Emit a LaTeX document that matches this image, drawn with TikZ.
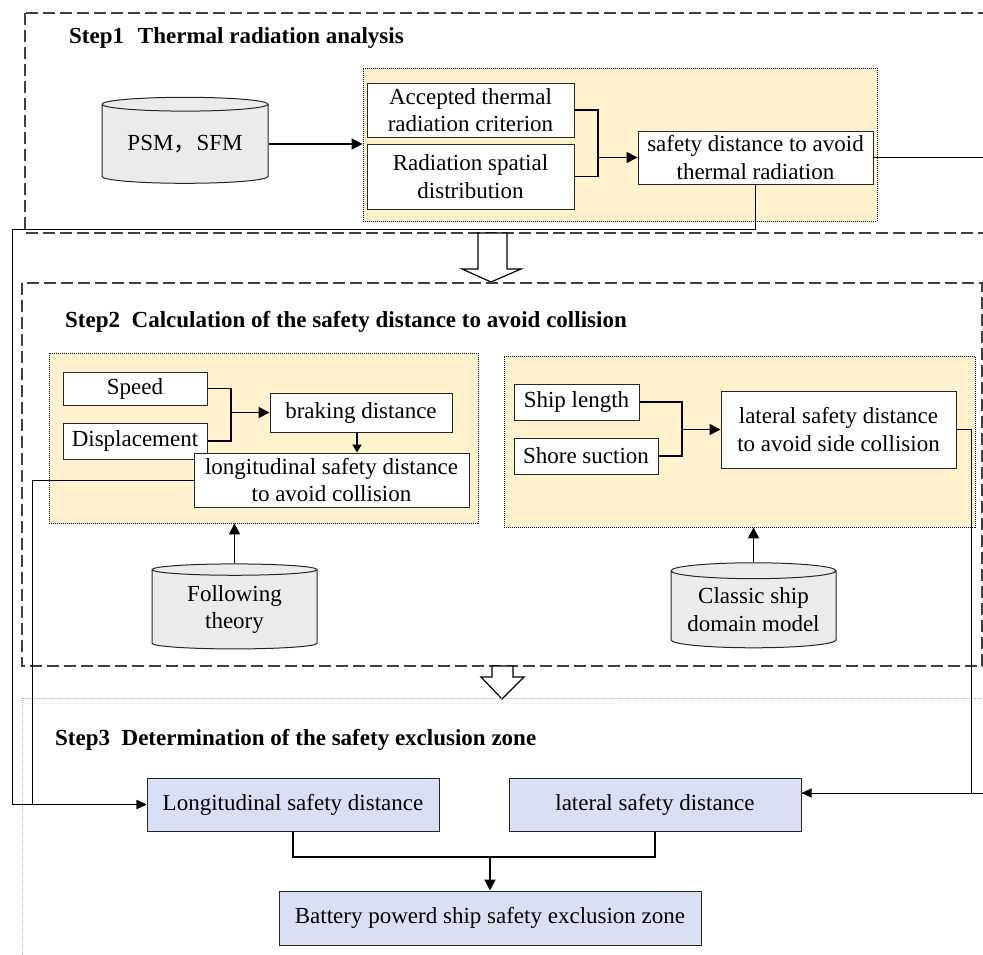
\documentclass[tikz,border=0pt]{standalone}
\usepackage{fontspec}
\setmainfont{Liberation Serif}
\newfontfamily\cjk{Noto Sans CJK SC}
\usetikzlibrary{shapes.geometric,arrows.meta}

\definecolor{panelyellow}{HTML}{FFF2CC}
\definecolor{resultblue}{HTML}{DAE0F3}
\definecolor{dbgray}{HTML}{EBEBEB}
\definecolor{edgegray}{HTML}{262626}

\begin{document}
\begin{tikzpicture}[x=1pt,y=-1pt,
  font=\fontsize{23}{27.5}\selectfont,
  head/.style={font=\fontsize{23}{27.5}\selectfont\bfseries, inner sep=0pt, anchor=base west},
  frame/.style={draw=black!75, line width=1.2pt, dash pattern=on 12pt off 5pt},
  panel/.style={draw=black, fill=panelyellow, line width=0.8pt, dash pattern=on 1pt off 1pt, inner sep=0pt},
  box/.style={draw=edgegray, fill=white, line width=1pt, inner sep=0pt, align=center},
  result/.style={box, fill=resultblue, minimum width=292pt, minimum height=53pt},
  db/.style={cylinder, shape border rotate=90, aspect=0.12, draw=edgegray, fill=dbgray, line width=1pt,
             minimum width=166pt, minimum height=86pt, inner sep=0pt, align=center},
  link/.style={draw=black, line width=1.8pt},
  feed/.style={draw=black, line width=1pt},
  tip/.style={-{Triangle[length=11pt,width=11pt]}},
  hollow/.style={draw=black, fill=white, line width=1.2pt, line join=miter}
]
\clip (0,0) rectangle (983,954);
\fill[white] (0,0) rectangle (983,954);

% Step 1
\draw[frame] (25,13) rectangle (1010,233);
\node[head] (s1) at (69,43) {Step1\hspace{0.6em}Thermal radiation analysis};
\node[panel, minimum width=514pt, minimum height=153pt] (p1) at (620,144.5) {};
\node[db] (psm) at (185,144) {PSM{\cjk ，}SFM};
\node[box, minimum width=207pt, minimum height=54pt] (crit) at (470.5,110) {Accepted thermal\\radiation criterion};
\node[box, minimum width=207pt, minimum height=65pt] (spat) at (470.5,176.5) {Radiation spatial\\distribution};
\node[box, minimum width=235pt, minimum height=53pt] (therm) at (755.5,157.5) {safety distance to avoid\\thermal radiation};
\coordinate (j1) at (598,157.5);
\draw[link] (crit.east) -| (j1) |- (spat.east);
\draw[link, tip] (j1) -- (therm.west);
\draw[link, line width=1.5pt, tip] (psm.east) -- (psm.east -| p1.west);

% hollow arrow 1 -> 2
\draw[hollow] (478,233) -- (478,269) -- (462,269) -- (491,282) -- (521,269) -- (507,269) -- (507,233) -- cycle;

% Step 2
\draw[frame] (22,283) rectangle (982,666);
\node[head] (s2) at (65,327) {Step2\hspace{0.5em}Calculation of the safety distance to avoid collision};
\node[panel, minimum width=429pt, minimum height=170pt] (p2) at (263.5,438) {};
\node[panel, minimum width=471pt, minimum height=171pt] (p3) at (739.5,441.5) {};

\node[box, minimum width=144pt, minimum height=33pt] (speed) at (135,388.5) {Speed};
\node[box, minimum width=144pt, minimum height=36pt] (disp) at (135,441) {Displacement};
\node[box, minimum width=182pt, minimum height=39pt] (brake) at (361,412.5) {braking distance};
\node[box, minimum width=275pt, minimum height=54pt] (longi) at (331.5,480) {longitudinal safety distance\\to avoid collision};
\coordinate (j2) at (231,412.5);
\draw[link] (speed.east) -| (j2) |- (disp.east);
\draw[link, tip] (j2) -- (brake.west);
\draw[link, -{Triangle[length=8pt,width=9pt]}] ([xshift=-4pt]brake.south) -- ([xshift=-4pt]brake.south |- longi.north);

\node[box, minimum width=125pt, minimum height=36pt] (ship) at (576.5,402) {Ship length};
\node[box, minimum width=144pt, minimum height=36pt] (shore) at (586,456) {Shore suction};
\node[box, minimum width=235pt, minimum height=77pt] (lat) at (838.5,429.5) {lateral safety distance\\to avoid side collision};
\coordinate (j3) at (682,429.5);
\draw[link] (ship.east) -| (j3) |- (shore.east);
\draw[link, tip] (j3) -- (lat.west);

\node[db, minimum width=165pt, minimum height=85pt] (follow) at (234.5,609.5) {Following\\theory};
\node[db, minimum width=165pt, minimum height=85pt] (domain) at (753.5,609.5) {Classic ship\\domain model};
\draw[link, line width=1.5pt, tip] (follow.north) -- (follow.north |- p2.south);
\draw[link, line width=1.5pt, tip] (domain.north) -- (domain.north |- p3.south);

% hollow arrow 2 -> 3
\draw[hollow] (492,666) -- (492,677) -- (481,677) -- (502,699) -- (524,677) -- (513,677) -- (513,666) -- cycle;

% Step 3
\draw[draw=black!30, line width=0.6pt, dash pattern=on 1pt off 1pt] (22,698) rectangle (1010,1010);
\node[head] (s3) at (55,745) {Step3\hspace{0.5em}Determination of the safety exclusion zone};
\node[result] (long3) at (293,804.5) {Longitudinal safety distance};
\node[result] (lat3) at (655,804.5) {lateral safety distance};
\node[box, fill=resultblue, minimum width=422pt, minimum height=54pt] (zone) at (490,918) {Battery powerd ship safety exclusion zone};
\coordinate (j4) at (490,857);
\draw[link] (long3.south) |- (j4) -| (lat3.south);
\draw[link, tip] (j4) -- (zone.north);

% feeds into step 3
\coordinate (c1) at (12,229);
\coordinate (c2) at (32,480);
\coordinate (c3) at (971,429.5);
\coordinate (c4) at (1000,157.5);
\draw[feed, -{Triangle[length=10pt,width=9pt]}] (therm.south) |- (c1) |- (long3.west);
\draw[feed, -{Triangle[length=10pt,width=9pt]}] (longi.west) -- (c2) |- (long3.west);
\draw[feed, -{Triangle[length=10pt,width=9pt]}] (lat.east) -- (c3) |- ([yshift=11.5pt]lat3.east);
\draw[feed] (therm.east) -- (c4) |- ([yshift=11.5pt]lat3.east);
\end{tikzpicture}
\end{document}
